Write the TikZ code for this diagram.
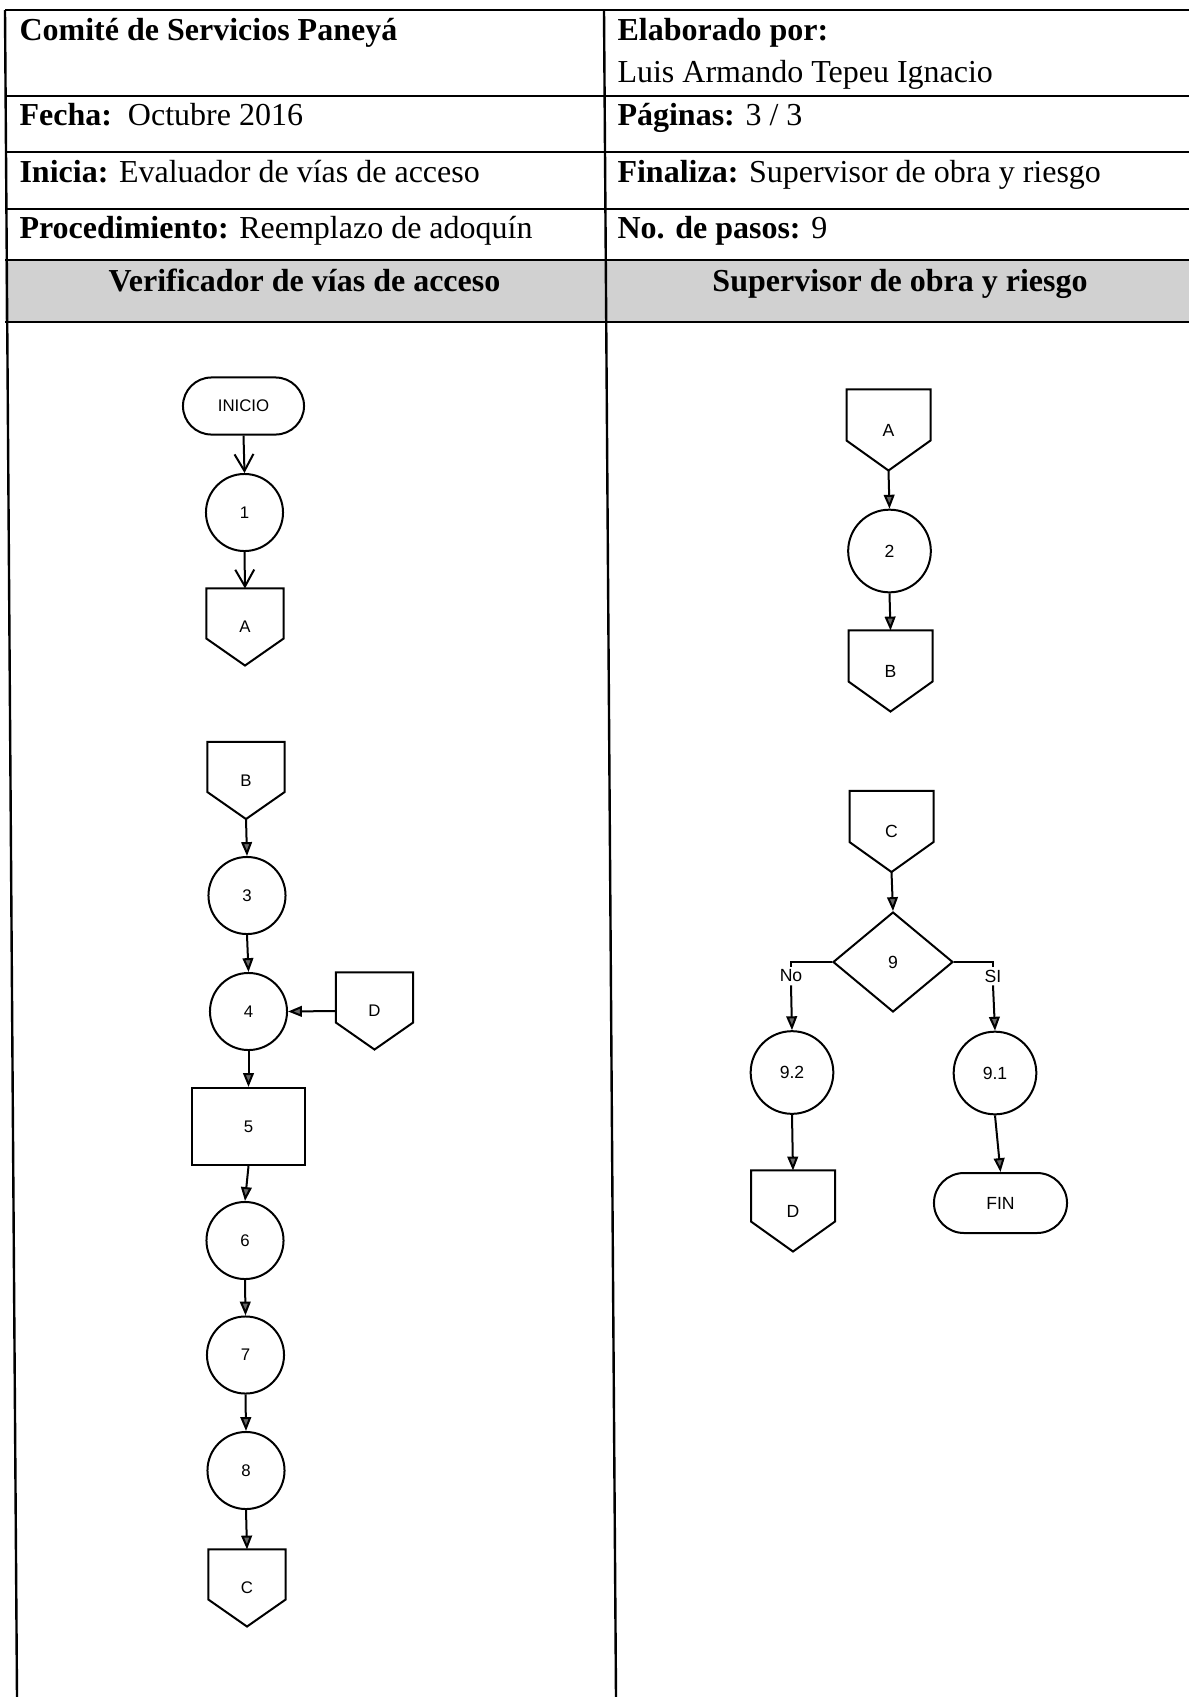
\documentclass[tikz,border=0pt]{standalone}
\usepackage{fontspec}
\setmainfont{Liberation Serif}
\newfontfamily\flowfont{Liberation Sans}
\usetikzlibrary{arrows.meta,shapes.geometric,shapes.misc,calc}
\begin{document}
\begin{tikzpicture}[x=0.375pt, y=-0.375pt,
  tline/.style={line width=0.9pt},
  celltxt/.style={anchor=base west, inner sep=0pt, font=\fontsize{12pt}{14pt}\selectfont},
  headtxt/.style={anchor=base, inner sep=0pt, font=\fontsize{12pt}{14pt}\selectfont\bfseries},
  shp/.style={draw, line width=0.75pt, inner sep=0pt},
  fsmall/.style={font=\flowfont\fontsize{6.3pt}{7pt}\selectfont},
  fbig/.style={font=\flowfont\fontsize{6.6pt}{7.5pt}\selectfont},
  circL/.style={shp, circle, minimum size=28.9pt, fsmall},
  circR/.style={shp, circle, minimum size=31pt, fbig},
  term/.style={shp, rounded rectangle},
  offpg/.style n args={3}{inner sep=0pt, minimum width=#1, minimum height=#2,
    append after command={\pgfextra{\draw[line width=0.75pt, line join=miter]
      (\tikzlastnode.north west) -- (\tikzlastnode.north east)
      -- ([yshift=#3]\tikzlastnode.south east) -- (\tikzlastnode.south)
      -- ([yshift=#3]\tikzlastnode.south west) -- cycle;}}},
  offL/.style={offpg={28.5pt}{28.5pt}{10.1pt}, fsmall},
  offR/.style={offpg={31.1pt}{30pt}{11.25pt}, fbig},
  lbl/.style={inner sep=1pt, fbig},
  openarr/.style={line width=0.75pt, -{Straight Barb[length=6.3pt,width=7.1pt,line width=0.75pt]}},
  arr/.style={line width=0.75pt, -{Triangle[length=5.2pt,width=4pt,fill=black!60]}},
  plain/.style={line width=0.75pt}
]
\useasboundingbox (0,0) rectangle (1189,1697);
\fill[white] (0,0) rectangle (1189,1697);

% ---------- table ----------
\fill[black!18] (5,260) rectangle (1189,322);
\foreach \yy in {10,96,152,209,260,322}
  \draw[tline] (5,\yy) -- (1189,\yy);
\draw[tline] (5,10) -- (17,1697);
\draw[tline] (604,10) -- (616,1697);

\node[celltxt] (t1) at (19,40) {\textbf{Comité de Servicios Paneyá}};
\node[celltxt] (t2) at (617,40) {\textbf{Elaborado por:}};
\node[celltxt] (t3) at (617,82) {Luis Armando Tepeu Ignacio};
\node[celltxt] (t4) at (19,125) {\textbf{Fecha:}\ \ Octubre 2016};
\node[celltxt] (t5) at (617,125) {\textbf{Páginas:} 3 / 3};
\node[celltxt] (t6) at (19,182) {\textbf{Inicia:} Evaluador de vías de acceso};
\node[celltxt] (t7) at (617,182) {\textbf{Finaliza:} Supervisor de obra y riesgo};
\node[celltxt] (t8) at (19,238) {\textbf{Procedimiento:} Reemplazo de adoquín};
\node[celltxt] (t9) at (617,238) {\textbf{No. de pasos:} 9};
\node[headtxt] (h1) at (304.5,291) {Verificador de vías de acceso};
\node[headtxt] (h2) at (900,291) {Supervisor de obra y riesgo};

% ---------- left lane ----------
\node[term, minimum width=45.4pt, minimum height=21.4pt, fsmall] (inicio) at (243.5,406) {INICIO};
\node[circL] (s1) at (244.5,512.5) {1};
\node[offL] (aL) at (245,627) {A};
\node[offL] (bL) at (246,780.5) {B};
\node[circL] (s3) at (247,895.5) {3};
\node[circL] (s4) at (248.5,1011.5) {4};
\node[offL] (dL) at (374.5,1011) {D};
\node[shp, rectangle, minimum width=42.4pt, minimum height=28.9pt, fsmall] (s5) at (248.5,1126.5) {5};
\node[circL] (s6) at (245,1240.5) {6};
\node[circL] (s7) at (245.5,1355) {7};
\node[circL] (s8) at (246,1470.5) {8};
\node[offL] (cL) at (247,1588) {C};

\draw[openarr] (inicio.south) -- (s1.north);
\draw[openarr] (s1.south) -- (aL.north);
\draw[arr] (bL.south) -- (s3.north);
\draw[arr] (s3.south) -- (s4.north);
\draw[arr] (dL.west) -- (s4.east);
\draw[arr] (s4.south) -- (s5.north);
\draw[arr] (s5.south) -- (s6.north);
\draw[arr] (s6.south) -- (s7.north);
\draw[arr] (s7.south) -- (s8.north);
\draw[arr] (s8.south) -- (cL.north);

% ---------- right lane ----------
\node[offR] (aR) at (888.5,430) {A};
\node[circR] (s2) at (889.5,551) {2};
\node[offR] (bR) at (890.5,671) {B};
\node[offR] (cR) at (891.5,831.5) {C};
\node[shp, diamond, minimum width=45pt, minimum height=37.5pt, fbig] (s9) at (893,962) {9};
\node[lbl] (no) at (791,976) {No};
\node[lbl] (si) at (993,976) {SI};
\node[circR] (s92) at (792,1072.5) {9.2};
\node[circR] (s91) at (995,1073) {9.1};
\node[offR] (dR) at (793,1211) {D};
\node[term, minimum width=49.9pt, minimum height=22.5pt, fbig] (fin) at (1000.5,1203) {FIN};

\draw[arr] (aR.south) -- (s2.north);
\draw[arr] (s2.south) -- (bR.north);
\draw[arr] (cR.south) -- (s9.north);
\draw[plain] (s9.west) -| (no.north);
\draw[plain] (s9.east) -| (si.north);
\draw[arr] (no.south) -- (s92.north);
\draw[arr] (si.south) -- (s91.north);
\draw[arr] (s92.south) -- (dR.north);
\draw[arr] (s91.south) -- (fin.north);
\end{tikzpicture}
\end{document}
